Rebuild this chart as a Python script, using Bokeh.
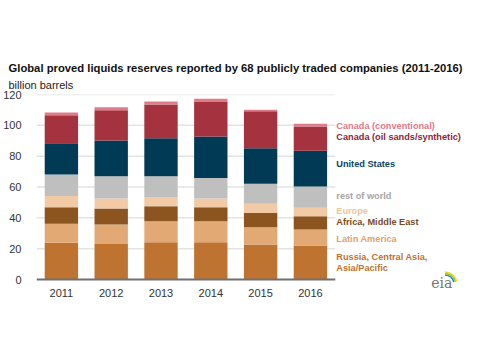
from bokeh.plotting import figure
from bokeh.models import Range1d, Title, ColumnDataSource
from bokeh.core.properties import value
from bokeh.embed import file_html
from bokeh.resources import INLINE

years = ["2011", "2012", "2013", "2014", "2015", "2016"]
russia_asia = [23.8, 23.1, 24.2, 24.2, 22.7, 22.1]
latin_america = [12.3, 12.6, 13.6, 13.6, 11.2, 10.3]
africa_me = [10.8, 10.4, 9.8, 9.1, 9.3, 8.7]
europe = [7.2, 6.4, 6.0, 5.6, 5.9, 5.4]
rest_of_world = [14.0, 14.5, 13.4, 13.4, 13.0, 13.8]
united_states = [20.3, 23.2, 24.7, 26.9, 23.1, 23.2]
canada_oil_sands = [18.2, 19.6, 21.8, 22.4, 24.0, 15.7]
canada_conv = [1.7, 2.0, 2.0, 2.0, 0.9, 1.8]

y_ticks = [0, 20, 40, 60, 80, 100, 120]

series = ["russia", "latam", "africa", "europe", "row", "us", "oilsands", "conv"]
fill_colors = ["#BF7330", "#E3A974", "#8C541F", "#F2CBA6", "#BFBFBF",
               "#003A54", "#A4323F", "#DE7C89"]
label_texts = ["Canada (conventional)", "Canada (oil sands/synthetic)", "United States",
               "rest of world", "Europe", "Africa, Middle East", "Latin America",
               "Russia, Central Asia,", "Asia/Pacific"]
label_colors = ["#E07A88", "#8E2636", "#0D425F", "#A6A6A6", "#F0C39A",
                "#7B4B1C", "#E0A46C", "#C0742F", "#C0742F"]
label_y = [99.4, 92.3, 75.2, 54.0, 44.7, 37.2, 26.6, 14.5, 7.3]

n = len(years)
xpos = [i + 0.5 for i in range(n)]

src = ColumnDataSource(dict(x=xpos, russia=russia_asia, latam=latin_america,
                            africa=africa_me, europe=europe, row=rest_of_world,
                            us=united_states, oilsands=canada_oil_sands, conv=canada_conv))

px_per_cat = 50.5
frame_w = 434
y_lo = -11
p = figure(x_range=Range1d(0, frame_w / px_per_cat), y_range=Range1d(y_lo, 120),
           width=464, height=340, output_backend="svg", toolbar_location=None,
           min_border_left=30, min_border_right=0, min_border_top=94, min_border_bottom=44)
p.title = None
p.outline_line_color = None
p.background_fill_color = "white"
p.border_fill_color = "white"

# gridlines stop at the last category, as in the original
grid_y = y_ticks[1:]
p.segment(x0=[0] * len(grid_y), x1=[n] * len(grid_y), y0=grid_y, y1=grid_y,
          line_color="#E3E3E3", line_width=1.5)

p.vbar_stack(series, x="x", width=0.67, source=src, color=fill_colors, line_color=None)

p.segment(x0=[0], x1=[n], y0=[0], y1=[0], line_color="#707070", line_width=2)

p.xgrid.grid_line_color = None
p.ygrid.grid_line_color = None
p.yaxis.axis_line_color = None
p.yaxis.major_tick_line_color = None
p.yaxis.minor_tick_line_color = None
p.yaxis.major_label_standoff = 9
p.yaxis.major_label_text_font = "Liberation Sans"
p.yaxis.major_label_text_font_size = "11px"
p.yaxis.major_label_text_color = "#333333"
p.yaxis.ticker = y_ticks

p.xaxis.axis_line_color = None
p.xaxis.major_tick_line_color = None
p.xaxis.minor_tick_line_color = None
p.xaxis.ticker = xpos
p.xaxis.major_label_overrides = {x: y for x, y in zip(xpos, years)}
p.xaxis.major_label_standoff = -14
p.xaxis.major_label_text_font = "Liberation Sans"
p.xaxis.major_label_text_font_size = "11px"
p.xaxis.major_label_text_color = "#333333"

lsrc = ColumnDataSource(dict(x=[n + 0.02] * len(label_texts), y=label_y,
                             text=label_texts, color=label_colors))
p.text(x="x", y="y", text="text", text_color="color", source=lsrc,
       text_font=value("Liberation Sans"), text_font_size=value("9.2px"),
       text_font_style=value("bold"), text_baseline="middle")

p.add_layout(Title(text="billion barrels", text_font="Liberation Sans", text_font_size="11px",
                   text_font_style="normal", text_color="#222222", align="left",
                   offset=-28, standoff=8), "above")
p.add_layout(Title(text="Global proved liquids reserves reported by 68 publicly traded companies (2011-2016)",
                   text_font="Liberation Sans", text_font_size="11.25px", text_font_style="bold",
                   text_color="#111111", align="left", offset=-28, standoff=-2), "above")

# eia logo (text plus swoosh)
logo_x, logo_y = 8.14, -2.4
p.text(x=[logo_x], y=[logo_y], text=["eia"], text_font=value("DejaVu Serif"),
       text_font_size=value("14px"), text_color="#777777", text_align="center",
       text_baseline="middle")
for r, c in zip([10, 11.5, 13], ["#1C8AC9", "#8CC63F", "#F4D21F"]):
    p.arc(x=[logo_x + 0.05], y=[-3.6], radius=r, radius_units="screen", start_angle=0.3,
          end_angle=1.5, line_color=c, line_width=1.5)

open("out.html", "w").write(file_html(p, INLINE))
